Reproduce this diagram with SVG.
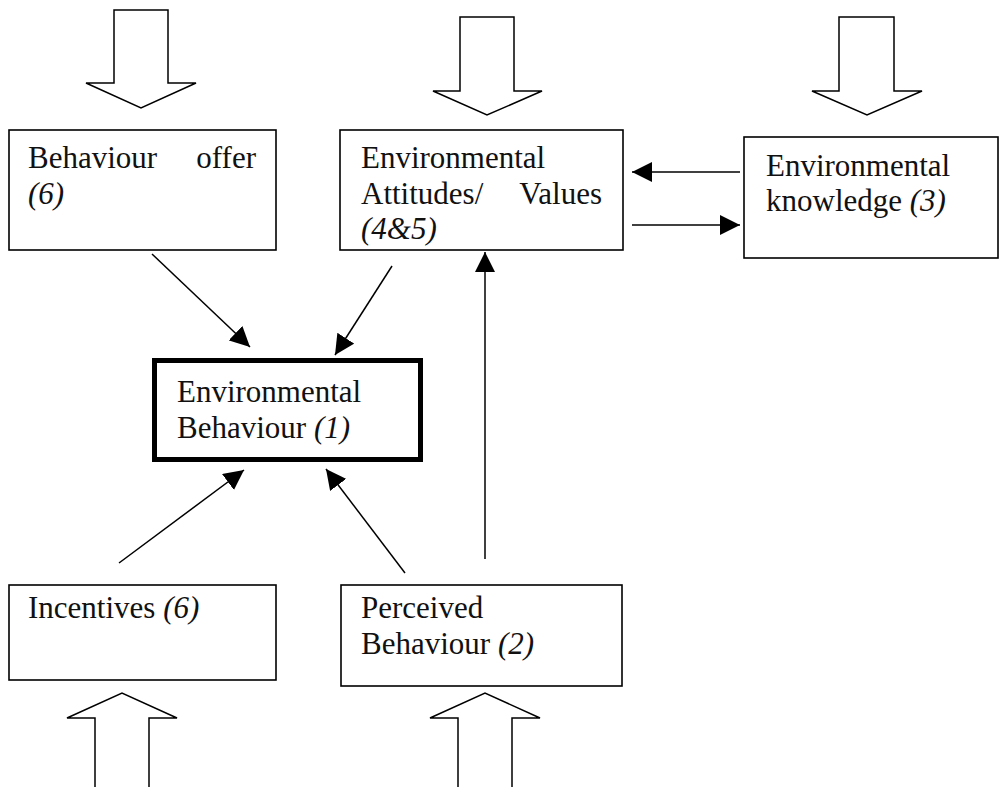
<svg xmlns="http://www.w3.org/2000/svg" width="1000" height="787" viewBox="0 0 1000 787">
<style>
.box{fill:#fff;stroke:#000;stroke-width:1.6}
.thick{fill:#fff;stroke:#000;stroke-width:5}
.block{fill:#fff;stroke:#000;stroke-width:1.5;stroke-linejoin:miter}
.t{font-family:"Liberation Serif","Times New Roman",serif;font-size:31px;fill:#111}
.i{font-style:italic}
.conn line{stroke:#000;stroke-width:1.5;marker-end:url(#ah)}
</style>
<defs>
<marker id="ah" viewBox="0 0 20 20" refX="20" refY="10" markerWidth="20" markerHeight="20" markerUnits="userSpaceOnUse" orient="auto">
<path d="M0,0 L20,10 L0,20 Z" fill="#000"/>
</marker>
</defs>
<rect width="1000" height="787" fill="#fff"/>

<g id="block-arrows">
<path class="block" d="M114,10 L168,10 L168,83 L196,83 L141,108 L86,83 L114,83 Z"/>
<path class="block" d="M460,17 L514,17 L514,91 L542,91 L487,115 L433,91 L460,91 Z"/>
<path class="block" d="M839,17 L894,17 L894,91 L922,91 L867,115 L812,91 L839,91 Z"/>
<path class="block" d="M95,792 L95,718 L67,718 L122,693 L177,718 L149,718 L149,792"/>
<path class="block" d="M458,792 L458,718 L430,718 L485,693 L540,718 L512,718 L512,792"/>
</g>

<g id="behaviour-offer">
<rect class="box" x="9" y="130" width="267" height="120"/>
<text class="t" x="28" y="168">Behaviour</text>
<text class="t" x="256" y="168" text-anchor="end">offer</text>
<text class="t i" x="28" y="204">(6)</text>
</g>

<g id="attitudes-values">
<rect class="box" x="340" y="130" width="283" height="120"/>
<text class="t" x="361" y="168">Environmental</text>
<text class="t" x="361" y="204">Attitudes/</text>
<text class="t" x="602" y="204" text-anchor="end">Values</text>
<text class="t i" x="361" y="239">(4&amp;5)</text>
</g>

<g id="knowledge">
<rect class="box" x="744" y="137" width="254" height="121"/>
<text class="t" x="766" y="176">Environmental</text>
<text class="t" x="766" y="211">knowledge <tspan class="i">(3)</tspan></text>
</g>

<g id="env-behaviour">
<rect class="thick" x="154.5" y="360.5" width="266" height="99"/>
<text class="t" x="177" y="402">Environmental</text>
<text class="t" x="177" y="438">Behaviour <tspan class="i">(1)</tspan></text>
</g>

<g id="incentives">
<rect class="box" x="9" y="585" width="267" height="95"/>
<text class="t" x="28" y="618">Incentives <tspan class="i">(6)</tspan></text>
</g>

<g id="perceived">
<rect class="box" x="341" y="585" width="281" height="101"/>
<text class="t" x="361" y="618">Perceived</text>
<text class="t" x="361" y="654">Behaviour <tspan class="i">(2)</tspan></text>
</g>

<g id="connectors" class="conn">
<line x1="740" y1="172" x2="632" y2="172"/>
<line x1="632" y1="225" x2="740" y2="225"/>
<line x1="152" y1="254" x2="250" y2="347"/>
<line x1="392" y1="266" x2="335" y2="355"/>
<line x1="119" y1="563" x2="244" y2="470"/>
<line x1="405" y1="573" x2="326" y2="469"/>
<line x1="485" y1="559" x2="485" y2="252"/>
</g>
</svg>
